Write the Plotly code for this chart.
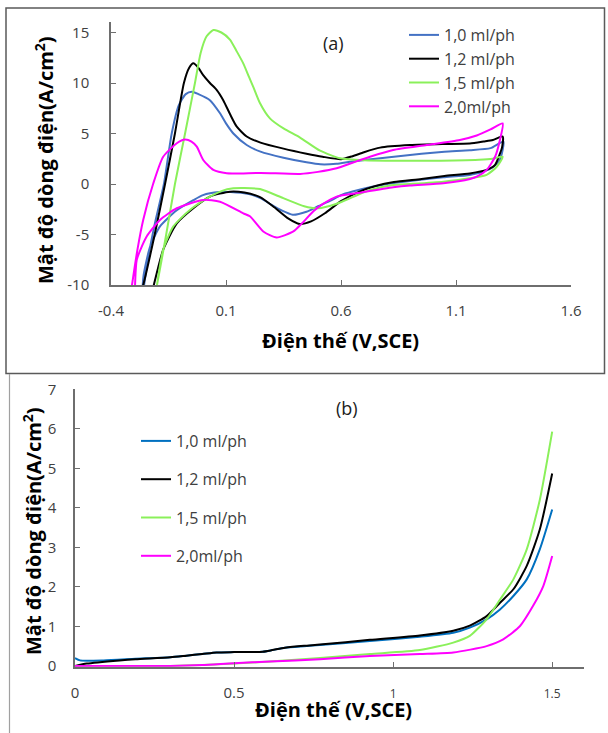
import plotly.graph_objects as go

# ---------------- Panel (a): cyclic voltammetry ----------------
names = ["1,0 ml/ph", "1,2 ml/ph", "1,5 ml/ph", "2,0ml/ph"]

a_blue_x = [-0.262, -0.24, -0.21, -0.17, -0.136, -0.105, -0.075, -0.049, -0.02, 0.03, 0.074, 0.1, 0.132, 0.19, 0.25,
            0.35, 0.45, 0.51, 0.58, 0.64, 0.73, 0.83, 0.95, 1.05, 1.16, 1.25, 1.306,
            1.291, 1.262, 1.22, 1.16, 1.045, 0.9, 0.8, 0.73, 0.65, 0.6, 0.55, 0.5, 0.45, 0.39, 0.34, 0.3, 0.25,
            0.2, 0.12, 0.07, 0.0, -0.042, -0.114, -0.187, -0.23, -0.258, -0.265]
a_blue_y = [-11, -7.5, -4, 0, 5, 7.8, 8.9, 9.14, 8.9, 8.3, 7.0, 6.0, 5.0, 3.86, 3.2,
            2.6, 2.15, 1.95, 2.0, 2.2, 2.45, 2.7, 3.0, 3.2, 3.35, 3.55, 4.2,
            2.4, 1.7, 1.22, 0.9, 0.66, 0.3, 0.0, -0.3, -0.75, -1.1, -1.7, -2.2, -2.75, -3.05, -2.6, -2.1, -1.4,
            -1.0, -0.8, -0.8, -1.1, -1.6, -2.6, -4.2, -6.2, -9, -11]

a_black_x = [-0.275, -0.26, -0.21, -0.165, -0.122, -0.083, -0.06, -0.042, -0.02, 0.0, 0.03, 0.06, 0.088, 0.12, 0.146,
             0.19, 0.25, 0.35, 0.45, 0.52, 0.6, 0.65, 0.7, 0.77, 0.9, 1.04, 1.16, 1.22, 1.26, 1.303,
             1.3, 1.291, 1.27, 1.233, 1.16, 1.05, 0.95, 0.83, 0.75, 0.68, 0.6, 0.53, 0.47, 0.42, 0.37, 0.31,
             0.248, 0.18, 0.117, 0.03, -0.042, -0.114, -0.173, -0.216, -0.225]
a_black_y = [-11, -10, -5, 0, 5, 10, 11.5, 11.95, 11.5, 10.8, 10.0, 9.3, 8.3, 6.8, 5.7,
             4.7, 4.1, 3.5, 3.0, 2.7, 2.45, 2.75, 3.15, 3.6, 3.85, 3.95, 4.0, 4.2, 4.35, 4.7,
             3.6, 3.0, 1.9, 1.4, 1.05, 0.8, 0.5, 0.2, -0.2, -0.76, -1.7, -2.9, -3.7, -3.95, -3.4, -2.3,
             -1.3, -0.85, -0.76, -1.25, -2.4, -3.9, -6.5, -10.2, -11]

a_green_x = [-0.21, -0.2, -0.16, -0.122, -0.078, -0.035, -0.01, 0.015, 0.045, 0.08, 0.117, 0.145, 0.175, 0.2, 0.219,
             0.248, 0.291, 0.35, 0.422, 0.509, 0.596, 0.7, 0.85, 1.0, 1.2, 1.26, 1.303,
             1.277, 1.233, 1.161, 1.045, 0.9, 0.827, 0.726, 0.65, 0.581, 0.5, 0.44, 0.349, 0.248, 0.18, 0.132,
             0.08, 0.03, -0.057, -0.129, -0.173, -0.2, -0.205]
a_green_y = [-11, -10, -5, 0, 5, 10, 13, 14.6, 15.25, 15.0, 14.3, 13.2, 11.95, 10.6, 9.6,
             8.0, 6.5, 5.5, 4.6, 3.3, 2.55, 2.35, 2.3, 2.3, 2.4, 2.5, 2.7,
             1.7, 0.9, 0.56, 0.23, 0.0, -0.1, -0.6, -1.3, -1.95, -2.4, -2.2, -1.4, -0.5, -0.4, -0.43,
             -0.7, -1.25, -2.57, -4.2, -6.5, -10, -11]

a_mag_x = [-0.315, -0.31, -0.285, -0.26, -0.216, -0.173, -0.114, -0.078, -0.05, -0.027, 0.001, 0.045, 0.103, 0.25,
           0.422, 0.5, 0.581, 0.65, 0.726, 0.827, 0.973, 1.117, 1.19, 1.25, 1.303,
           1.291, 1.27, 1.233, 1.19, 1.161, 1.045, 0.9, 0.827, 0.683, 0.581, 0.52, 0.48, 0.43, 0.393, 0.32,
           0.262, 0.204, 0.175, 0.074, 0.001, -0.114, -0.187, -0.245, -0.288, -0.296, -0.3]
a_mag_y = [-11, -10.2, -6.5, -3.56, 0.07, 2.7, 4.03, 4.4, 4.2, 3.7, 2.38, 1.39, 1.06, 1.1,
           1.0, 1.2, 1.55, 2.1, 2.7, 3.37, 3.86, 4.36, 4.8, 5.4, 6.0,
           4.36, 2.7, 1.39, 0.72, 0.5, 0.07, -0.15, -0.33, -0.86, -1.25, -2.0, -2.7, -3.9, -4.7, -5.3,
           -4.7, -3.2, -2.9, -1.75, -1.58, -2.4, -3.56, -5.2, -7.5, -10.2, -11]

# ---------------- Panel (b): linear sweep ----------------
b_blue_x = [0, 0.016, 0.09, 0.19, 0.3, 0.35, 0.4, 0.445, 0.5, 0.59, 0.62, 0.66, 0.72, 0.77, 0.927, 1.084, 1.189,
            1.241, 1.294, 1.336, 1.378, 1.42, 1.461, 1.5]
b_blue_y = [0.2, 0.14, 0.14, 0.18, 0.22, 0.26, 0.3, 0.34, 0.35, 0.36, 0.4, 0.46, 0.5, 0.53, 0.63, 0.74, 0.84,
            0.97, 1.18, 1.43, 1.77, 2.19, 2.95, 3.96]
b_black_x = [0, 0.037, 0.14, 0.19, 0.3, 0.35, 0.4, 0.445, 0.5, 0.59, 0.62, 0.66, 0.72, 0.77, 0.927, 1.084, 1.189,
             1.241, 1.294, 1.336, 1.378, 1.42, 1.461, 1.5]
b_black_y = [0.0, 0.06, 0.14, 0.17, 0.22, 0.26, 0.3, 0.34, 0.35, 0.36, 0.4, 0.46, 0.51, 0.54, 0.66, 0.77, 0.89,
             1.02, 1.26, 1.6, 1.94, 2.53, 3.45, 4.87]
b_green_x = [0, 0.3, 0.4, 0.5, 0.613, 0.77, 0.927, 1.084, 1.189, 1.241, 1.294, 1.336, 1.378, 1.42, 1.461, 1.5]
b_green_y = [0, 0.0, 0.02, 0.06, 0.11, 0.2, 0.3, 0.4, 0.59, 0.76, 1.18, 1.68, 2.19, 2.95, 4.2, 5.93]
b_mag_x = [0, 0.3, 0.4, 0.5, 0.613, 0.77, 0.927, 1.084, 1.189, 1.294, 1.346, 1.399, 1.44, 1.472, 1.5]
b_mag_y = [0, 0, 0.02, 0.07, 0.11, 0.17, 0.25, 0.3, 0.34, 0.5, 0.67, 1.01, 1.52, 2.02, 2.78]

a_ticks_x = [-0.4, 0.1, 0.6, 1.1, 1.6]
a_ticks_y = [-10, -5, 0, 5, 10, 15]
b_ticks_x = [0, 0.5, 1, 1.5]
b_ticks_y = [0, 1, 2, 3, 4, 5, 6, 7]

colors_a = ["#4472C4", "#000000", "#8AF05A", "#FF00FF"]
colors_b = ["#0070C0", "#000000", "#8AF05A", "#FF00FF"]

W, H = 608, 733
FONT = "Open Sans"
AX = "#6E6E6E"
TXT = "#404040"

fig = go.Figure()

a_series = [(a_blue_x, a_blue_y), (a_black_x, a_black_y), (a_green_x, a_green_y), (a_mag_x, a_mag_y)]
for (xs, ys), nm, c in zip(a_series, names, colors_a):
    fig.add_trace(go.Scatter(x=xs, y=ys, mode="lines", name=nm, xaxis="x", yaxis="y", legend="legend",
                             line=dict(color=c, width=2, shape="spline", smoothing=0.6)))

b_series = [(b_blue_x, b_blue_y), (b_black_x, b_black_y), (b_green_x, b_green_y), (b_mag_x, b_mag_y)]
for i, ((xs, ys), nm, c) in enumerate(zip(b_series, names, colors_b)):
    fig.add_trace(go.Scatter(x=xs, y=ys, mode="lines", name=nm, xaxis="x2", yaxis="y2", legend="legend2",
                             legendgroup="b%d" % i,
                             line=dict(color=c, width=2, shape="spline", smoothing=0.6)))

def px_x(p):
    return p / W

def px_y(p):
    return 1 - p / H

axis_common = dict(showline=True, linecolor=AX, linewidth=1.5, ticks="inside", ticklen=5, tickcolor=AX,
                   tickwidth=1.2, showgrid=False, zeroline=False, automargin=False,
                   tickfont=dict(family=FONT, size=15, color=TXT))

b_tick_text = ["0", "0.5", "<span style='font-size:12px'>1</span>", "<span style='font-size:12px'>1.5</span>"]

fig.update_layout(
    width=W, height=H, margin=dict(l=0, r=0, t=0, b=0, pad=0), autosize=False,
    paper_bgcolor="white", plot_bgcolor="white",
    xaxis=dict(domain=[px_x(111), px_x(571)], range=[-0.4, 1.6], anchor="y",
               tickvals=a_ticks_x, ticktext=[str(v) for v in a_ticks_x], ticklabelstandoff=11, **axis_common),
    yaxis=dict(domain=[px_y(285), px_y(22.4)], range=[-10, 16], anchor="x",
               tickvals=a_ticks_y, ticktext=[str(v) for v in a_ticks_y], ticklabelstandoff=17, **axis_common),
    xaxis2=dict(domain=[px_x(75), px_x(584)], range=[0, 1.6], anchor="y2",
                tickvals=b_ticks_x, ticktext=b_tick_text, ticklabelstandoff=12, **axis_common),
    yaxis2=dict(domain=[px_y(666.7), px_y(389.3)], range=[-0.02, 7], anchor="x2",
                tickvals=b_ticks_y, ticktext=[str(v) for v in b_ticks_y], ticklabelstandoff=14, **axis_common),
    legend=dict(x=px_x(404), y=px_y(18), xanchor="left", yanchor="top", bgcolor="rgba(0,0,0,0)",
                font=dict(family=FONT, size=16, color=TXT), itemwidth=30, tracegroupgap=0),
    legend2=dict(x=px_x(136), y=px_y(424), xanchor="left", yanchor="top", bgcolor="rgba(0,0,0,0)",
                 font=dict(family=FONT, size=16, color=TXT), traceorder="grouped", tracegroupgap=14.5,
                 itemwidth=30),
    showlegend=True,
)

ann = []
title_font = dict(family=FONT, size=20, color="#000000")
ann.append(dict(text="<b>Mật độ dòng điện(A/cm<sup>2</sup>)</b>", x=px_x(45), y=px_y(160), xref="paper",
                yref="paper", textangle=-90, showarrow=False, font=title_font, xanchor="center", yanchor="middle"))
ann.append(dict(text="<b>Điện thế (V,SCE)</b>", x=px_x(340), y=px_y(340), xref="paper", yref="paper",
                showarrow=False, font=title_font, xanchor="center", yanchor="middle"))
ann.append(dict(text="<b>Mật độ dòng điện(A/cm<sup>2</sup>)</b>", x=px_x(32), y=px_y(531), xref="paper",
                yref="paper", textangle=-90, showarrow=False, font=title_font, xanchor="center", yanchor="middle"))
ann.append(dict(text="<b>Điện thế (V,SCE)</b>", x=px_x(333), y=px_y(709), xref="paper", yref="paper",
                showarrow=False, font=title_font, xanchor="center", yanchor="middle"))
ann.append(dict(text="(a)", x=px_x(333), y=px_y(43), xref="paper", yref="paper", showarrow=False,
                font=dict(family=FONT, size=18, color="#202020"), xanchor="center", yanchor="middle"))
ann.append(dict(text="(b)", x=px_x(347), y=px_y(408), xref="paper", yref="paper", showarrow=False,
                font=dict(family=FONT, size=18, color="#202020"), xanchor="center", yanchor="middle"))
fig.update_layout(annotations=ann)

shapes = [
    dict(type="rect", xref="paper", yref="paper", x0=px_x(6), x1=px_x(604.5), y0=px_y(373.5), y1=px_y(8),
         line=dict(color="#5A5A5A", width=1.5), fillcolor="rgba(0,0,0,0)", layer="below"),
    dict(type="line", xref="paper", yref="paper", x0=px_x(9.5), x1=px_x(9.5), y0=px_y(374), y1=0,
         line=dict(color="#A0A0A0", width=1.2)),
]
fig.update_layout(shapes=shapes)

fig.write_html("out.html", config={"displayModeBar": False},
               post_script="document.body.style.margin='0';document.body.style.padding='0';"
                           "document.body.style.overflow='hidden';")
